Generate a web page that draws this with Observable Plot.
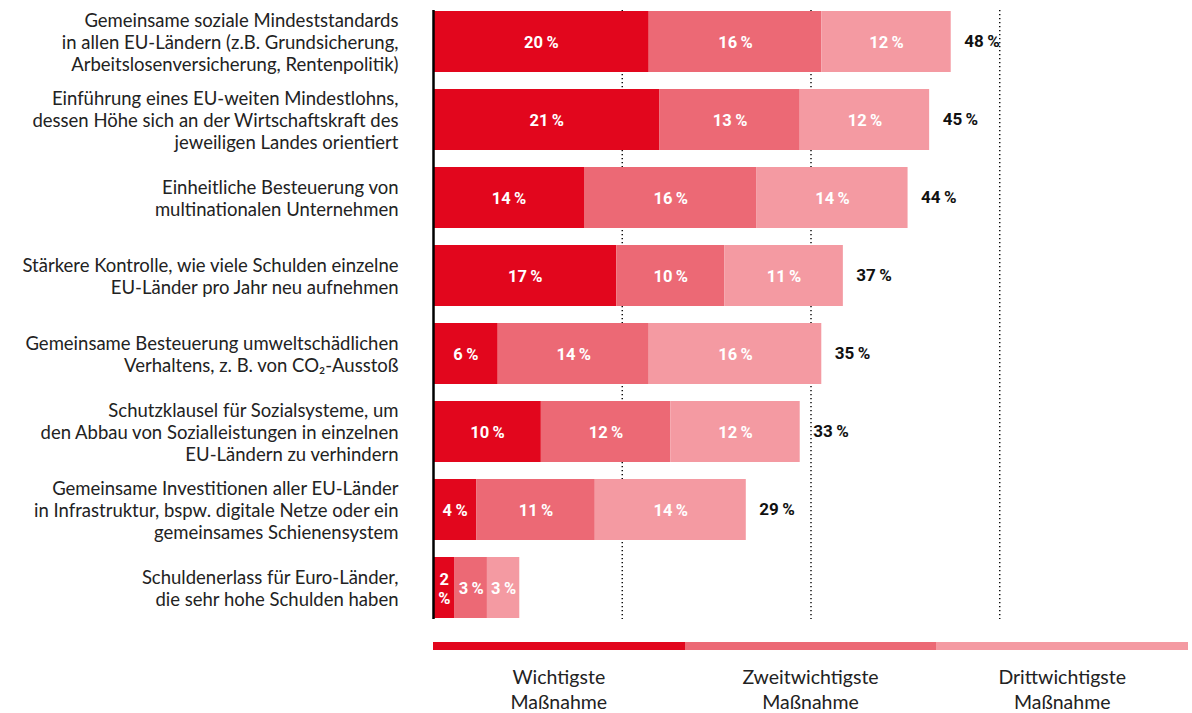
<!DOCTYPE html>
<html><head><meta charset="utf-8">
<script src="https://cdn.jsdelivr.net/npm/d3@7"></script>
<script src="https://cdn.jsdelivr.net/npm/@observablehq/plot@0.6"></script>
<style>
body{margin:0;background:#fff;font-family:Lato,sans-serif;}
#legend{display:flex;margin-left:433px;width:755px;margin-top:12px}
#legend div{flex:1;border-top:8px solid;text-align:center;padding-top:14px;font-size:19.5px;line-height:25px;color:#222;white-space:pre-line}
</style></head><body><div id="chart"></div><div id="legend"></div>
<script>
const categories = [
  "Gemeinsame soziale Mindeststandards\nin allen EU-Ländern (z.B. Grundsicherung,\nArbeitslosenversicherung, Rentenpolitik)",
  "Einführung eines EU-weiten Mindestlohns,\ndessen Höhe sich an der Wirtschaftskraft des\njeweiligen Landes orientiert",
  "Einheitliche Besteuerung von\nmultinationalen Unternehmen",
  "Stärkere Kontrolle, wie viele Schulden einzelne\nEU-Länder pro Jahr neu aufnehmen",
  "Gemeinsame Besteuerung umweltschädlichen\nVerhaltens, z. B. von CO₂-Ausstoß",
  "Schutzklausel für Sozialsysteme, um\nden Abbau von Sozialleistungen in einzelnen\nEU-Ländern zu verhindern",
  "Gemeinsame Investitionen aller EU-Länder\nin Infrastruktur, bspw. digitale Netze oder ein\ngemeinsames Schienensystem",
  "Schuldenerlass für Euro-Länder,\ndie sehr hohe Schulden haben"
];
const first  = [20, 21, 14, 17, 6, 10, 4, 2];
const second = [16, 13, 16, 10, 14, 12, 11, 3];
const third  = [12, 12, 14, 11, 16, 12, 14, 3];
const totals = [48, 45, 44, 37, 35, 33, 29, null];
const seriesNames = ["Wichtigste\nMaßnahme", "Zweitwichtigste\nMaßnahme", "Drittwichtigste\nMaßnahme"];
const seriesColors = ["#e2061d", "#ec6975", "#f49aa2"];
const gridTicks = [17.5, 35, 52.5];

const seriesValues = [first, second, third];
const rows = [];
categories.forEach((c, i) => seriesValues.forEach((arr, s) => rows.push({cat: c, series: seriesNames[s], value: arr[i]})));
const totalRows = categories.map((c, i) => ({cat: c, end: first[i] + second[i] + third[i], total: totals[i]})).filter(d => d.total != null);
const pct = v => v < 3 ? `${v}\n%` : `${v}\u2009%`;

const chart = Plot.plot({
  width: 1192, height: 630,
  marginLeft: 433, marginRight: 4, marginTop: 10, marginBottom: 11,
  style: {fontFamily: "Lato", background: "#fff"},
  x: {domain: [0, 70], axis: null},
  y: {domain: categories, axis: null, paddingInner: 0.22, paddingOuter: 0},
  color: {domain: seriesNames, range: seriesColors},
  marks: [
    Plot.ruleX(gridTicks, {stroke: "#000", strokeWidth: 1.4, strokeDasharray: "1.2,2.8"}),
    Plot.barX(rows, {x: "value", y: "cat", fill: "series"}),
    Plot.text(rows, Plot.stackX({x: "value", y: "cat", z: "series", text: d => pct(d.value),
      fill: "white", fontWeight: 700, fontSize: 16.5, fontFamily: "Roboto", lineHeight: 1.15})),
    Plot.text(totalRows, {x: "end", y: "cat", text: d => `${d.total}\u2009%`, dx: 13, textAnchor: "start",
      fill: "#111", fontWeight: 700, fontSize: 17, fontFamily: "Roboto"}),
    Plot.ruleX([0], {stroke: "#000", strokeWidth: 2.5}),
    Plot.text(categories, {y: d => d, text: d => d, frameAnchor: "left", dx: -35, textAnchor: "end",
      fontSize: 18.5, lineHeight: 1.2, fill: "#222", fontFamily: "Lato"})
  ]
});
document.getElementById("chart").appendChild(chart);
const legend = document.getElementById("legend");
seriesNames.forEach((n, i) => {
  const d = document.createElement("div");
  d.style.borderTopColor = seriesColors[i];
  d.textContent = n;
  legend.appendChild(d);
});
</script></body></html>
